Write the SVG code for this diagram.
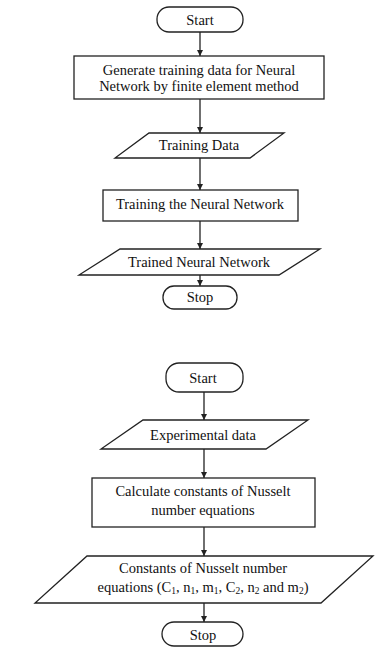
<svg xmlns="http://www.w3.org/2000/svg" width="387" height="649" viewBox="0 0 387 649">
<style>
.s{fill:#fff;stroke:#222;stroke-width:1.3}
.t{font-family:"Liberation Serif","Times New Roman",serif;font-size:14.5px;fill:#111;text-anchor:middle}
.c{stroke:#222;stroke-width:1.3;fill:none;marker-end:url(#ah)}
</style>
<defs>
<marker id="ah" markerWidth="7" markerHeight="7" refX="6" refY="3" orient="auto" markerUnits="userSpaceOnUse">
<path d="M0,0 L6,3 L0,6 Z" fill="#222"/>
</marker>
</defs>
<rect width="387" height="649" fill="#fff"/>
<g id="connectors">
<line class="c" x1="200" y1="32" x2="200" y2="56"/>
<line class="c" x1="200" y1="99" x2="200" y2="133"/>
<line class="c" x1="200" y1="158" x2="200" y2="190"/>
<line class="c" x1="200" y1="221" x2="200" y2="249"/>
<line class="c" x1="200" y1="275" x2="200" y2="286"/>
<line class="c" x1="204" y1="392" x2="204" y2="420"/>
<line class="c" x1="204" y1="449" x2="204" y2="478"/>
<line class="c" x1="204" y1="527" x2="204" y2="556"/>
<line class="c" x1="204" y1="603" x2="204" y2="622"/>
</g>
<g id="start1">
<rect class="s" x="157" y="7" width="86" height="25" rx="12"/>
<text class="t" x="200" y="24.5">Start</text>
</g>
<g id="generate">
<rect class="s" x="74" y="56" width="250" height="43"/>
<text class="t" x="199" y="74.5">Generate training data for Neural</text>
<text class="t" x="199" y="90.5">Network by finite element method</text>
</g>
<g id="trainingData">
<polygon class="s" points="149,133 284,133 250,158 115,158"/>
<text class="t" x="199" y="150">Training Data</text>
</g>
<g id="training">
<rect class="s" x="103" y="190" width="195" height="31"/>
<text class="t" x="200" y="209">Training the Neural Network</text>
</g>
<g id="trained">
<polygon class="s" points="120,249 320,249 279,275 79,275"/>
<text class="t" x="199" y="267">Trained Neural Network</text>
</g>
<g id="stop1">
<rect class="s" x="163" y="286" width="74" height="23" rx="11"/>
<text class="t" x="200" y="302">Stop</text>
</g>
<g id="start2">
<rect class="s" x="166" y="363" width="77" height="29" rx="13"/>
<text class="t" x="203" y="383">Start</text>
</g>
<g id="experimental">
<polygon class="s" points="143,420 308,420 266,449 101,449"/>
<text class="t" x="203" y="440">Experimental data</text>
</g>
<g id="calculate">
<rect class="s" x="92" y="478" width="223" height="49"/>
<text class="t" x="203" y="496">Calculate constants of Nusselt</text>
<text class="t" x="203" y="515">number equations</text>
</g>
<g id="constants">
<polygon class="s" points="87,556 373,556 321,603 35,603"/>
<text class="t" x="203" y="573">Constants of Nusselt number</text>
<text class="t" x="203" y="592">equations (C<tspan font-size="9.5" dy="2">1</tspan><tspan dy="-2">, n</tspan><tspan font-size="9.5" dy="2">1</tspan><tspan dy="-2">, m</tspan><tspan font-size="9.5" dy="2">1</tspan><tspan dy="-2">, C</tspan><tspan font-size="9.5" dy="2">2</tspan><tspan dy="-2">, n</tspan><tspan font-size="9.5" dy="2">2</tspan><tspan dy="-2"> and m</tspan><tspan font-size="9.5" dy="2">2</tspan><tspan dy="-2">)</tspan></text>
</g>
<g id="stop2">
<rect class="s" x="162" y="622" width="81" height="24" rx="12"/>
<text class="t" x="203" y="640">Stop</text>
</g>
</svg>
